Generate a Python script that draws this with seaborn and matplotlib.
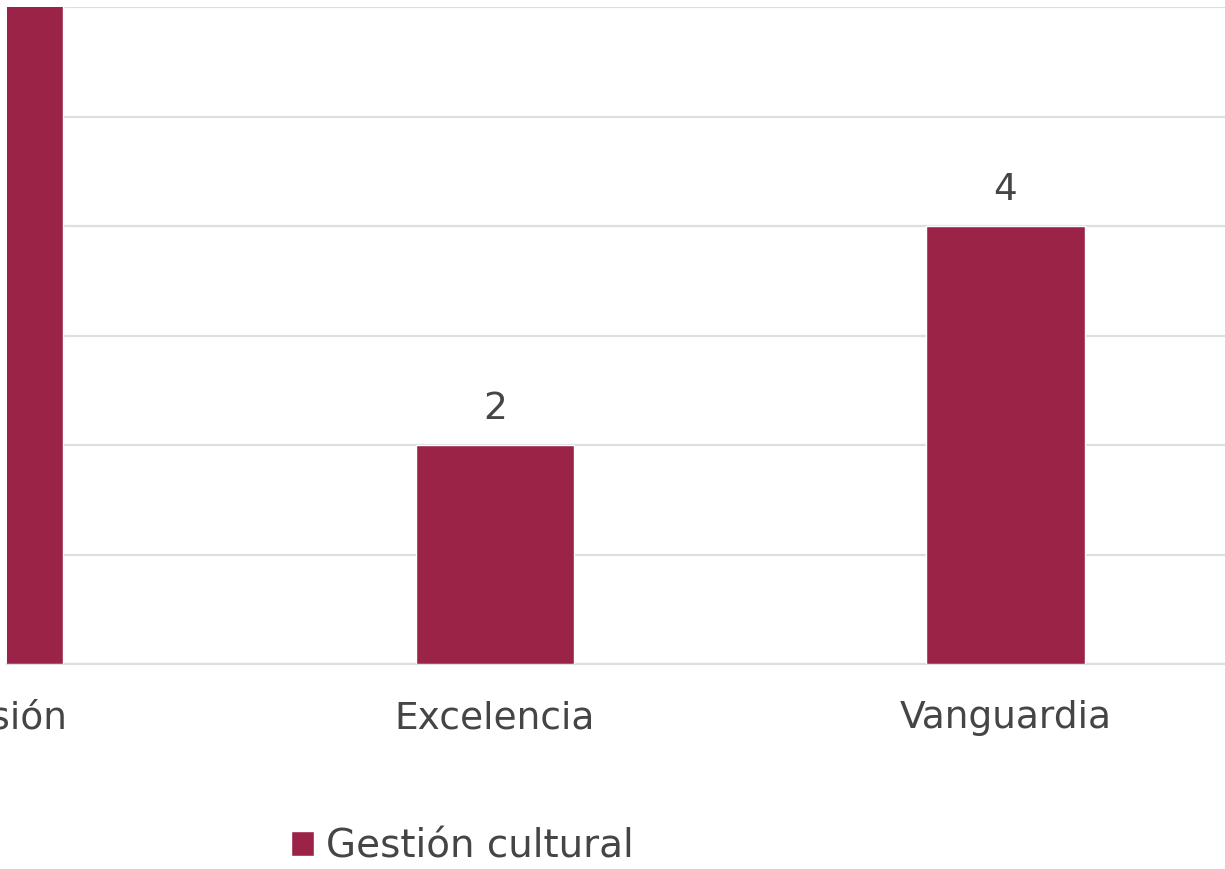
import matplotlib
matplotlib.use("Agg")
import matplotlib.pyplot as plt
import seaborn as sns
import pandas as pd

categorias = ["Inclusión", "Excelencia", "Vanguardia"]
valores = [7, 2, 4]
serie = "Gestión cultural"

color_barra = "#9c2348"
color_texto = "#454545"
color_grid = "#dedede"

sns.set_theme(style="white")
plt.rcParams["font.family"] = ["DejaVu Sans"]

df = pd.DataFrame({"categoria": categorias, "valor": valores})

fig = plt.figure(figsize=(12.25, 8.69), dpi=100)
ax = fig.add_axes([7 / 1225, 1 - 664 / 869, 1 - 7 / 1225, (664 - 7) / 869])

sns.barplot(data=df, x="categoria", y="valor", color=color_barra, width=0.31,
            saturation=1, label=serie, ax=ax, zorder=3, legend=False)

ax.set_ylim(0, 6)
ax.set_xlim(0.045, 2.43)
ax.set_yticks(range(0, 7))
ax.yaxis.grid(True, color=color_grid, linewidth=1.6, zorder=0)
ax.set_axisbelow(True)
ax.set_yticklabels([])
ax.tick_params(axis="y", length=0)
ax.set_xticks([])
ax.set_xlabel("")
ax.set_ylabel("")
for s in ["top", "right", "left"]:
    ax.spines[s].set_visible(False)
ax.spines["bottom"].set_color(color_grid)
ax.spines["bottom"].set_linewidth(1.6)
if ax.get_legend() is not None:
    ax.get_legend().remove()

# etiquetas de categoria (la primera queda cortada por el borde, como en el original)
for i, c in enumerate(categorias):
    ax.annotate(c, xy=(i, 0), xytext=(0, -39), textcoords="offset points",
                ha="center", va="center", fontsize=27, color=color_texto,
                annotation_clip=False)

for i, v in enumerate(valores):
    ax.annotate(str(v), xy=(i, v), xytext=(0, 26), textcoords="offset points",
                ha="center", va="center", fontsize=27, color=color_texto)

handles, labels = ax.get_legend_handles_labels()
fig.legend(handles[:1], labels[:1], loc="center", bbox_to_anchor=(462 / 1225, 1 - 846 / 869),
           frameon=False, fontsize=28, labelcolor=color_texto,
           handlelength=0.6, handleheight=0.6, handletextpad=0.3)

fig.savefig("out.png", dpi=100)
